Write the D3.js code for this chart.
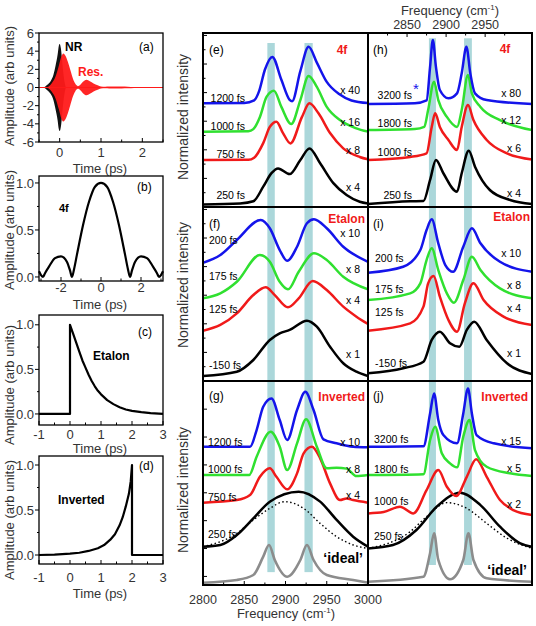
<!DOCTYPE html>
<html>
<head>
<meta charset="utf-8">
<script src="https://cdn.jsdelivr.net/npm/d3@7"></script>
<style>
body { margin: 0; background: #fff; }
svg { display: block; }
text { font-family: Arial, "Liberation Sans", sans-serif; }
</style>
</head>
<body>
<svg id="svg" width="536" height="626"></svg>
<script>
// ---------- values ----------
// (a) envelopes of the fast oscillating fields: [time (ps), amplitude]
var nrEnvelope = [[-0.38,0],[-0.3,0.3],[-0.22,0.7],[-0.15,1.4],[-0.1,2.4],[-0.05,3.6],[-0.02,4.6],[0,4.8],[0.03,4.3],[0.06,3.0],[0.09,1.6],[0.12,0.6],[0.15,0]];
var resEnvelope = [[-0.3,0],[-0.2,0.4],[-0.1,1.2],[-0.02,2.4],[0.04,3.4],[0.09,3.75],[0.14,3.5],[0.2,2.8],[0.26,1.9],[0.32,1.0],[0.38,0.4],[0.44,0.15],[0.5,0.3],[0.57,0.65],[0.65,0.85],[0.73,0.7],[0.82,0.45],[0.92,0.25],[1.0,0.12],[1.1,0.08],[1.2,0.1],[1.35,0.12],[1.5,0.1],[1.65,0.08],[1.8,0.05],[1.95,0.02],[2.1,0]];
// (b)-(d) filter amplitudes: [time (ps), amplitude]
var filter4f = [[-3.1,0.06],[-3.0,0.02],[-2.9,0],[-2.8,0.04],[-2.6,0.11],[-2.3,0.2],[-2.0,0.22],[-1.7,0.16],[-1.55,0.07],[-1.45,0],[-1.35,0.08],[-1.2,0.24],[-0.9,0.55],[-0.6,0.8],[-0.3,0.96],[0,1],[0.3,0.96],[0.6,0.8],[0.9,0.55],[1.2,0.24],[1.35,0.08],[1.45,0],[1.55,0.07],[1.7,0.16],[2.0,0.22],[2.3,0.2],[2.6,0.11],[2.8,0.04],[2.9,0],[3.0,0.02],[3.1,0.06]];
var filterEtalon = [[-1,0],[0,0],[0,1],[0.1,0.9],[0.2,0.8],[0.3,0.7],[0.4,0.6],[0.5,0.52],[0.6,0.44],[0.7,0.37],[0.8,0.31],[0.9,0.26],[1.0,0.22],[1.2,0.155],[1.4,0.11],[1.6,0.075],[1.8,0.05],[2.0,0.035],[2.3,0.02],[2.6,0.01],[3,0]];
var filterInverted = [[-1,0],[-0.5,0.005],[0,0.015],[0.3,0.025],[0.6,0.045],[0.9,0.075],[1.1,0.11],[1.3,0.17],[1.45,0.23],[1.6,0.33],[1.7,0.42],[1.8,0.54],[1.9,0.68],[1.96,0.82],[2.0,1.0],[2.0,0],[3,0]];

// (e) 4f spectra: [frequency (cm-1), offset normalized intensity]
var e1200 = [[2800,7.25],[2850,7.27],[2862,7.45],[2868,8.1],[2875,9.6],[2884,10.5],[2895,8.9],[2905,7.5],[2908,7.4],[2918,9.5],[2928,11.2],[2938,10.1],[2950,8.75],[2965,7.9],[2980,7.45],[3000,7.27]];
var e1000 = [[2800,5.27],[2855,5.3],[2861,5.45],[2869,6.3],[2877,7.7],[2886,8.13],[2895,7.0],[2907,5.8],[2918,7.48],[2928,9.16],[2938,8.4],[2950,7.0],[2966,6.08],[2985,5.52],[3000,5.27]];
var e750 = [[2800,3.29],[2855,3.3],[2862,3.45],[2873,4.47],[2881,5.6],[2889,5.97],[2897,5.17],[2906,4.45],[2920,6.3],[2929,7.25],[2940,6.55],[2954,5.17],[2970,4.1],[2990,3.5],[3000,3.33]];
var e250 = [[2800,0.18],[2845,0.25],[2861,0.4],[2873,1.42],[2883,2.37],[2891,2.7],[2905,2.3],[2918,3.29],[2929,4.1],[2942,3.06],[2958,1.67],[2974,0.84],[2990,0.37],[3000,0.25]];
// (h) 4f, longer delays
var h3200 = [[2800,7.2],[2860,7.25],[2875,7.45],[2879.5,9.8],[2883,11.68],[2887,9.8],[2892,8.18],[2903,7.6],[2914,7.95],[2920,9.35],[2926,11.21],[2931,9.35],[2937,7.95],[2952,7.48],[3010,7.2]];
var h1800 = [[2800,5.38],[2860,5.45],[2872,5.6],[2877,6.78],[2884.6,8.76],[2890,7.48],[2901,6.3],[2914,5.6],[2920,6.78],[2928,9.23],[2933,7.95],[2944,7.0],[2969,6.08],[3010,5.38]];
var h1000 = [[2800,3.29],[2854,3.5],[2875,3.75],[2881.6,5.6],[2886,6.55],[2892,5.6],[2903,4.69],[2914,3.99],[2920,5.6],[2928,7.13],[2935,6.08],[2952,4.69],[2978,3.75],[3010,3.33]];
var h250 = [[2800,0.21],[2854,0.4],[2871,0.42],[2879.5,1.89],[2887,3.29],[2896.5,2.36],[2914,1.07],[2920,2.36],[2929,3.94],[2937,2.82],[2956,1.19],[2982,0.49],[3010,0.21]];
// (f) etalon
var f200 = [[2800,8.27],[2821,8.81],[2841,9.86],[2870,11.26],[2881,10.68],[2893,9.16],[2902,8.41],[2914,9.39],[2926,11.03],[2934.5,11.31],[2950,10.68],[2970,9.39],[3000,8.34]];
var f175 = [[2800,5.78],[2821,6.13],[2841,6.94],[2869,8.81],[2881,8.34],[2893,6.94],[2903,6.41],[2916,7.64],[2934.5,8.93],[2950,8.46],[2970,7.29],[3000,6.41]];
var f125 = [[2800,3.52],[2821,3.92],[2841,4.73],[2861,6.01],[2876,6.55],[2887,6.01],[2903,5.15],[2916,5.78],[2933,6.99],[2950,6.36],[2970,5.2],[2986,4.5],[3000,3.99]];
var fm150 = [[2800,0.35],[2841,0.65],[2861,1.47],[2881,2.87],[2893,3.33],[2905,3.57],[2926,4.22],[2938,3.8],[2954,2.4],[2970,1.24],[2986,0.65],[3000,0.35]];
// (i) etalon
var i200 = [[2800,7.57],[2845,7.99],[2867,9.16],[2875,10.56],[2881.6,11.31],[2890,9.63],[2899,8.11],[2909,7.64],[2922,9.39],[2933,10.68],[2944,9.63],[2969,8.34],[3010,7.64]];
var i175 = [[2800,5.66],[2854,6.13],[2867,6.83],[2875,8.46],[2881.6,9.28],[2890,7.76],[2901,6.13],[2910,5.48],[2922,7.06],[2933,8.69],[2944,7.76],[2969,6.48],[3010,5.78]];
var i125 = [[2800,3.52],[2854,4.03],[2871,5.2],[2877,6.83],[2884,7.34],[2892,5.9],[2903,4.27],[2914,3.45],[2924,5.43],[2935,6.83],[2948,5.66],[2973.5,4.5],[3010,3.92]];
var im150 = [[2800,0.54],[2845,0.89],[2871,1.35],[2881.6,2.87],[2892,3.45],[2905,2.64],[2917,2.4],[2926.5,3.57],[2936,4.15],[2952,2.87],[2978,1.24],[3010,0.49]];
// (g) inverted
var g1200 = [[2800,9.67],[2857,9.67],[2865,10.84],[2873,12.47],[2883,13.05],[2893,11.54],[2902,10.14],[2914,12.24],[2924,13.52],[2934,12.24],[2946,10.19],[2962,9.91],[2982,9.67],[3000,9.63]];
var g1000 = [[2800,7.69],[2856,7.69],[2865,8.97],[2882,10.72],[2893,9.67],[2902,8.04],[2914,9.91],[2925,11.59],[2938,9.67],[2950,8.16],[2962,8.2],[2974,8.14],[2986,7.62],[3000,7.69]];
var g750 = [[2800,5.76],[2841,5.94],[2857,6.29],[2869,7.57],[2881,8.16],[2889,7.57],[2902,6.69],[2914,7.81],[2922,9.21],[2932,9.67],[2942,8.86],[2954,7.11],[2966,5.94],[2974,6.05],[2982,5.94],[3000,5.76]];
var g250 = [[2800,2.68],[2821,2.8],[2841,3.5],[2861,4.66],[2881,5.83],[2916,6.53],[2942,5.83],[2962,4.55],[2982,3.38],[3000,2.68]];
var g250dotted = [[2800,2.68],[2841,3.61],[2861,4.55],[2881,5.36],[2899,5.83],[2922,5.36],[2942,4.31],[2962,3.38],[2982,2.8],[3000,2.56]];
var gIdeal = [[2800,0.16],[2841,0.35],[2861,0.7],[2873,1.98],[2880,2.8],[2887,1.75],[2902,0.58],[2918,1.75],[2926,2.8],[2934,1.75],[2950,0.7],[2982,0.35],[3000,0.16]];
// (j) inverted
var j3200 = [[2800,9.67],[2871,9.7],[2879.5,12.0],[2884.6,13.4],[2890,11.54],[2896.5,10.49],[2914,9.91],[2922,12.0],[2928,13.75],[2933,12.0],[2939,10.49],[2961,9.91],[3010,9.56]];
var j1800 = [[2800,7.69],[2871,7.75],[2879.5,10.14],[2886,11.07],[2894.5,9.21],[2905,8.51],[2914,8.23],[2922,10.37],[2930,11.54],[2937,9.44],[2952,8.27],[2982,7.81],[3010,7.62]];
var j1000 = [[2800,5.01],[2820,5.1],[2841,5.48],[2858,5.01],[2875,6.64],[2890,8.04],[2901,6.87],[2913,6.22],[2926.5,7.57],[2938.5,8.79],[2952,7.57],[2969,5.94],[2986,5.24],[3010,4.9]];
var j250 = [[2800,2.56],[2832,2.8],[2862,3.85],[2888,5.48],[2918,6.46],[2944,5.59],[2969,4.08],[2995,2.91],[3010,2.68]];
var j250dotted = [[2800,2.56],[2854,3.73],[2875,4.78],[2901,5.76],[2926.5,5.36],[2952,4.31],[2978,3.27],[3010,2.56]];
var jIdeal = [[2800,0.23],[2871,0.58],[2879.5,2.22],[2884.6,3.62],[2890,1.75],[2905,0.4],[2922,1.75],[2928.6,3.62],[2935,1.75],[2952,0.47],[3010,0.23]];

// resonance bands (cm-1)
var resonanceBands = [[2878,2887],[2923,2933]];

// labels
var eDelays = ['1200 fs','1000 fs','750 fs','250 fs'];
var eFactors = ['x 40','x 16','x 8','x 4'];
var hDelays = ['3200 fs','1800 fs','1000 fs','250 fs'];
var hFactors = ['x 80','x 12','x 6','x 4'];
var fDelays = ['200 fs','175 fs','125 fs','-150 fs'];
var fFactors = ['x 10','x 8','x 4','x 1'];
var iDelays = ['200 fs','175 fs','125 fs','-150 fs'];
var iFactors = ['x 10','x 8','x 4','x 1'];
var gDelays = ['1200 fs','1000 fs','750 fs','250 fs'];
var gFactors = ['x 10','x 8','x 4'];
var jDelays = ['3200 fs','1800 fs','1000 fs','250 fs'];
var jFactors = ['x 15','x 5','x 2'];
var freqTicks = [2800,2850,2900,2950,3000];
var freqMinor = [2825,2875,2925,2975];
var topFreqTicks = [2850,2900,2950];
var topFreqMinor = [2825,2875,2925,2975];

// ---------- drawing ----------
var svg = d3.select('#svg');
var defs = svg.append('defs');
var blue = '#1414ea', green = '#30e030', red = '#f01a1a', gray = '#8c8c8c', bandFill = '#abd7da';
var titleColor = '#333';

function addText(x, y, s, size, opt) {
    opt = opt || {};
    return svg.append('text')
        .attr('x', x)
        .attr('y', y + size * 0.35)
        .attr('font-size', size)
        .attr('text-anchor', opt.anchor || 'start')
        .attr('font-weight', opt.bold ? 'bold' : 'normal')
        .attr('fill', opt.color || '#000')
        .text(s);
}

function freqTitle(cx, baseline) {
    var t = svg.append('text').attr('x', cx).attr('y', baseline)
        .attr('text-anchor', 'middle').attr('font-size', 13).attr('fill', titleColor);
    t.append('tspan').text('Frequency (cm');
    t.append('tspan').attr('dy', -5).attr('font-size', 8).text('-1');
    t.append('tspan').attr('dy', 5).text(')');
}

// left column: time domain panels
var timePanels = [
    {id:'a', top:33, bottom:142, xDomain:[-0.5,2.5], yDomain:[-6,6],
     xTicks:[0,1,2], xMinor:[-0.5,0.5,1.5,2.5], yTicks:[-6,-4,-2,0,2,4,6], yMinor:[-5,-3,-1,1,3,5],
     yFmt:function(d){return String(d);}, labelBase:157, titleBase:173, yTitle:86},
    {id:'b', top:176, bottom:281, xDomain:[-3.1,3.1], yDomain:[-0.043,1.074],
     xTicks:[-2,0,2], xMinor:[-3,-1,1,3], yTicks:[0,0.5,1], yMinor:[0.25,0.75],
     yFmt:d3.format('.1f'), labelBase:292, titleBase:309, yTitle:230},
    {id:'c', top:315, bottom:425, xDomain:[-1,3], yDomain:[-0.124,1.11],
     xTicks:[-1,0,1,2,3], xMinor:[-0.5,0.5,1.5,2.5], yTicks:[0,0.5,1], yMinor:[0.25,0.75],
     yFmt:d3.format('.1f'), labelBase:439, titleBase:453, yTitle:385},
    {id:'d', top:456, bottom:564, xDomain:[-1,3], yDomain:[-0.1,1.1],
     xTicks:[-1,0,1,2,3], xMinor:[-0.5,0.5,1.5,2.5], yTicks:[0,0.5,1], yMinor:[0.25,0.75],
     yFmt:d3.format('.1f'), labelBase:582, titleBase:598, yTitle:520}
];

var tLeft = 39, tRight = 163;
timePanels.forEach(function (p) {
    var x = d3.scaleLinear().domain(p.xDomain).range([tLeft, tRight]);
    var y = d3.scaleLinear().domain(p.yDomain).range([p.bottom, p.top]);
    p.x = x; p.y = y;
    var g = svg.append('g');

    g.selectAll(null).data(p.yTicks).enter().append('line')
        .attr('x1', tLeft - 4).attr('x2', tLeft)
        .attr('y1', function(d){return y(d);}).attr('y2', function(d){return y(d);})
        .attr('stroke', '#000').attr('stroke-width', 1);
    g.selectAll(null).data(p.yMinor).enter().append('line')
        .attr('x1', tLeft - 2).attr('x2', tLeft)
        .attr('y1', function(d){return y(d);}).attr('y2', function(d){return y(d);})
        .attr('stroke', '#000').attr('stroke-width', 1);
    g.selectAll(null).data(p.yTicks).enter().append('text')
        .attr('x', tLeft - 5).attr('y', function(d){return y(d) + 4.6;})
        .attr('text-anchor', 'end').attr('font-size', 13).attr('fill', titleColor)
        .text(p.yFmt);

    g.selectAll(null).data(p.xTicks).enter().append('line')
        .attr('x1', function(d){return x(d);}).attr('x2', function(d){return x(d);})
        .attr('y1', p.bottom).attr('y2', p.bottom - 4)
        .attr('stroke', '#000').attr('stroke-width', 1);
    g.selectAll(null).data(p.xMinor).enter().append('line')
        .attr('x1', function(d){return x(d);}).attr('x2', function(d){return x(d);})
        .attr('y1', p.bottom).attr('y2', p.bottom - 2.5)
        .attr('stroke', '#000').attr('stroke-width', 1);
    g.selectAll(null).data(p.xTicks).enter().append('text')
        .attr('x', function(d){return x(d);}).attr('y', p.labelBase)
        .attr('text-anchor', 'middle').attr('font-size', 13).attr('fill', titleColor)
        .text(function(d){return String(d);});

    svg.append('text').attr('x', 100).attr('y', p.titleBase)
        .attr('text-anchor', 'middle').attr('font-size', 13).attr('fill', titleColor)
        .text('Time (ps)');
    svg.append('text').attr('transform', 'translate(14,' + p.yTitle + ') rotate(-90)')
        .attr('text-anchor', 'middle').attr('font-size', 13).attr('fill', titleColor)
        .text('Amplitude (arb units)');
});

// (a) fields
(function () {
    var p = timePanels[0];
    var area = d3.area().x(function(d){return p.x(d[0]);})
        .y0(function(d){return p.y(-d[1]);}).y1(function(d){return p.y(d[1]);})
        .curve(d3.curveMonotoneX);
    svg.append('path').datum(nrEnvelope).attr('d', area).attr('fill', '#111');
    svg.append('path').datum(resEnvelope).attr('d', area).attr('fill', '#ff1a1a').attr('fill-opacity', 0.95);
    svg.append('line').attr('x1', p.x(p.xDomain[0])).attr('x2', p.x(p.xDomain[1]))
        .attr('y1', p.y(0)).attr('y2', p.y(0)).attr('stroke', '#ff1a1a').attr('stroke-width', 1);
})();

function timeLine(p, data, curve) {
    var line = d3.line().x(function(d){return p.x(d[0]);}).y(function(d){return p.y(d[1]);}).curve(curve);
    svg.append('path').datum(data).attr('d', line)
        .attr('fill', 'none').attr('stroke', '#000').attr('stroke-width', 2.2).attr('stroke-linejoin', 'round');
}
timeLine(timePanels[1], filter4f, d3.curveMonotoneX);
timeLine(timePanels[2], filterEtalon, d3.curveLinear);
timeLine(timePanels[3], filterInverted, d3.curveLinear);

timePanels.forEach(function (p) {
    svg.append('rect').attr('x', tLeft).attr('y', p.top)
        .attr('width', tRight - tLeft).attr('height', p.bottom - p.top)
        .attr('fill', 'none').attr('stroke', '#000').attr('stroke-width', 1.3);
});

addText(65, 47, 'NR', 12, {bold:true});
addText(78, 72, 'Res.', 12, {bold:true, color:'#ff1a1a'});
addText(139, 47, '(a)', 12);
addText(137, 187, '(b)', 12);
addText(59, 208, '4f', 11, {bold:true});
addText(138, 332, '(c)', 12);
addText(93, 356, 'Etalon', 12, {bold:true});
addText(139, 466, '(d)', 12);
addText(58, 500, 'Inverted', 12, {bold:true});

// right block: spectra
var rows = [{top:33, bottom:207, yMax:12.17}, {top:207, bottom:381, yMax:12.17}, {top:381, bottom:585, yMax:14.27}];
var cols = [{left:203, right:368, domain:[2800,3000]}, {left:368, right:532, domain:[2800,3010]}];
var fourColors = ['#000', red, green, blue];

var spectra = [
    {id:'e', col:0, row:0, tag:'(e)', title:'4f', titleX:342, titleAnchor:'middle', titleY:50,
     series:[e250, e750, e1000, e1200], band:[0,11.47],
     delays:eDelays, delayX:245, delayAnchor:'end', delayY:[98,126,154,195], factors:eFactors, factorY:[90,122,150,187]},
    {id:'h', col:1, row:0, tag:'(h)', title:'4f', titleX:505, titleAnchor:'middle', titleY:49,
     series:[h250, h1000, h1800, h3200], band:[0,11.8],
     delays:hDelays, delayX:412, delayAnchor:'end', delayY:[95,123,152,195], factors:hFactors, factorY:[93,120,148,193]},
    {id:'f', col:0, row:1, tag:'(f)', title:'Etalon', titleX:365, titleAnchor:'end', titleY:219,
     series:[fm150, f125, f175, f200], band:[0,12.17],
     delays:fDelays, delayX:209, delayAnchor:'start', delayY:[240,276,309,365], factors:fFactors, factorY:[233,269,300,354]},
    {id:'i', col:1, row:1, tag:'(i)', title:'Etalon', titleX:530, titleAnchor:'end', titleY:217,
     series:[im150, i125, i175, i200], band:[0,12.17],
     delays:iDelays, delayX:375, delayAnchor:'start', delayY:[258,289,312,363], factors:iFactors, factorY:[253,285,308,353]},
    {id:'g', col:0, row:2, tag:'(g)', title:'Inverted', titleX:365, titleAnchor:'end', titleY:397,
     series:[g250, g750, g1000, g1200], dotted:g250dotted, ideal:gIdeal, band:[0.9,14.27],
     delays:gDelays, delayX:208, delayAnchor:'start', delayY:[442,469,497,534], factors:gFactors, factorY:[442,469,495],
     idealX:363, idealY:558},
    {id:'j', col:1, row:2, tag:'(j)', title:'Inverted', titleX:528, titleAnchor:'end', titleY:397,
     series:[j250, j1000, j1800, j3200], dotted:j250dotted, ideal:jIdeal, band:[1.4,14.27],
     delays:jDelays, delayX:374, delayAnchor:'start', delayY:[439,469,501,536], factors:jFactors, factorY:[441,468,504],
     idealX:527, idealY:570}
];

spectra.forEach(function (p) {
    var c = cols[p.col], r = rows[p.row];
    var x = d3.scaleLinear().domain(c.domain).range([c.left, c.right]);
    var y = d3.scaleLinear().domain([0, r.yMax]).range([r.bottom, r.top]);
    var clipId = 'clip-' + p.id;
    defs.append('clipPath').attr('id', clipId).append('rect')
        .attr('x', c.left).attr('y', r.top).attr('width', c.right - c.left).attr('height', r.bottom - r.top);
    var g = svg.append('g').attr('clip-path', 'url(#' + clipId + ')');

    g.selectAll(null).data(resonanceBands).enter().append('rect')
        .attr('x', function(d){return x(d[0]);})
        .attr('width', function(d){return x(d[1]) - x(d[0]);})
        .attr('y', y(p.band[1])).attr('height', y(p.band[0]) - y(p.band[1]))
        .attr('fill', bandFill);

    var line = d3.line().x(function(d){return x(d[0]);}).y(function(d){return y(d[1]);})
        .curve(d3.curveMonotoneX);
    if (p.ideal) {
        g.append('path').datum(p.ideal).attr('d', line).attr('fill', 'none')
            .attr('stroke', gray).attr('stroke-width', 2.6);
    }
    if (p.dotted) {
        g.append('path').datum(p.dotted).attr('d', line).attr('fill', 'none')
            .attr('stroke', '#000').attr('stroke-width', 1.4).attr('stroke-dasharray', '1.5,2.5');
    }
    g.selectAll(null).data(p.series).enter().append('path')
        .attr('d', line).attr('fill', 'none')
        .attr('stroke', function(d, i){return fourColors[i];})
        .attr('stroke-width', 2.5).attr('stroke-linejoin', 'round');

    p.delays.forEach(function (s, i) {
        addText(p.delayX, p.delayY[i], s, 10.5, {anchor:p.delayAnchor});
    });
    p.factors.forEach(function (s, i) {
        addText(c.right - (p.col === 0 ? 8 : 11), p.factorY[i], s, 10.5, {anchor:'end'});
    });
    addText(c.left + (p.col === 0 ? 6 : 5), r.top + (p.row === 2 ? 15 : 17), p.tag, 12);
    addText(p.titleX, p.titleY, p.title, 12, {bold:true, color:red, anchor:p.titleAnchor});
    if (p.ideal) {
        addText(p.idealX, p.idealY, '\u2018ideal\u2019', 14, {bold:true, anchor:'end'});
    }

    // left axis ticks on the left column
    if (p.col === 0) {
        var ticks = p.row === 2 ? d3.range(0.6, r.yMax, 1.95) : d3.range(1, r.yMax, 1);
        svg.selectAll(null).data(ticks).enter().append('line')
            .attr('x1', c.left).attr('x2', function(d, i){return c.left + ((p.row === 2 || i % 2 === 1) ? 4 : 2.5);})
            .attr('y1', function(d){return y(d);}).attr('y2', function(d){return y(d);})
            .attr('stroke', '#000').attr('stroke-width', 1);
    }
    p.x = x; p.y = y;
});

// blue star in (h)
addText(416, 89, '*', 15, {color:blue, anchor:'middle'});

// bottom axis of (g)
(function () {
    var x = spectra[4].x, b = rows[2].bottom;
    svg.selectAll(null).data(freqTicks).enter().append('line')
        .attr('x1', function(d){return x(d);}).attr('x2', function(d){return x(d);})
        .attr('y1', b).attr('y2', b - 4).attr('stroke', '#000');
    svg.selectAll(null).data(freqMinor).enter().append('line')
        .attr('x1', function(d){return x(d);}).attr('x2', function(d){return x(d);})
        .attr('y1', b).attr('y2', b - 2.5).attr('stroke', '#000');
    svg.selectAll(null).data(freqTicks).enter().append('text')
        .attr('x', function(d){return x(d);}).attr('y', 604)
        .attr('text-anchor', 'middle').attr('font-size', 12.5).attr('fill', titleColor)
        .text(function(d){return String(d);});
    freqTitle(286, 618);
})();

// top axis of (h)
(function () {
    var x = spectra[1].x, t = rows[0].top;
    svg.selectAll(null).data(topFreqTicks).enter().append('line')
        .attr('x1', function(d){return x(d);}).attr('x2', function(d){return x(d);})
        .attr('y1', t).attr('y2', t + 4).attr('stroke', '#000');
    svg.selectAll(null).data(topFreqMinor).enter().append('line')
        .attr('x1', function(d){return x(d);}).attr('x2', function(d){return x(d);})
        .attr('y1', t).attr('y2', t + 2.5).attr('stroke', '#000');
    svg.selectAll(null).data(topFreqTicks).enter().append('text')
        .attr('x', function(d){return x(d);}).attr('y', 29)
        .attr('text-anchor', 'middle').attr('font-size', 12.5).attr('fill', titleColor)
        .text(function(d){return String(d);});
    freqTitle(450, 15);
})();

// "Normalized intensity" titles
[117, 285, 490].forEach(function (cy) {
    svg.append('text').attr('transform', 'translate(188,' + cy + ') rotate(-90)')
        .attr('text-anchor', 'middle').attr('font-size', 14).attr('fill', titleColor)
        .text('Normalized intensity');
});

// frame of the spectra block
var frame = svg.append('g').attr('stroke', '#000').attr('stroke-width', 2).attr('fill', 'none');
frame.append('rect').attr('x', cols[0].left).attr('y', rows[0].top)
    .attr('width', cols[1].right - cols[0].left).attr('height', rows[2].bottom - rows[0].top);
frame.append('line').attr('x1', cols[1].left).attr('x2', cols[1].left).attr('y1', rows[0].top).attr('y2', rows[2].bottom);
[rows[1].top, rows[2].top].forEach(function (yy) {
    frame.append('line').attr('x1', cols[0].left).attr('x2', cols[1].right).attr('y1', yy).attr('y2', yy);
});
</script>
</body>
</html>
